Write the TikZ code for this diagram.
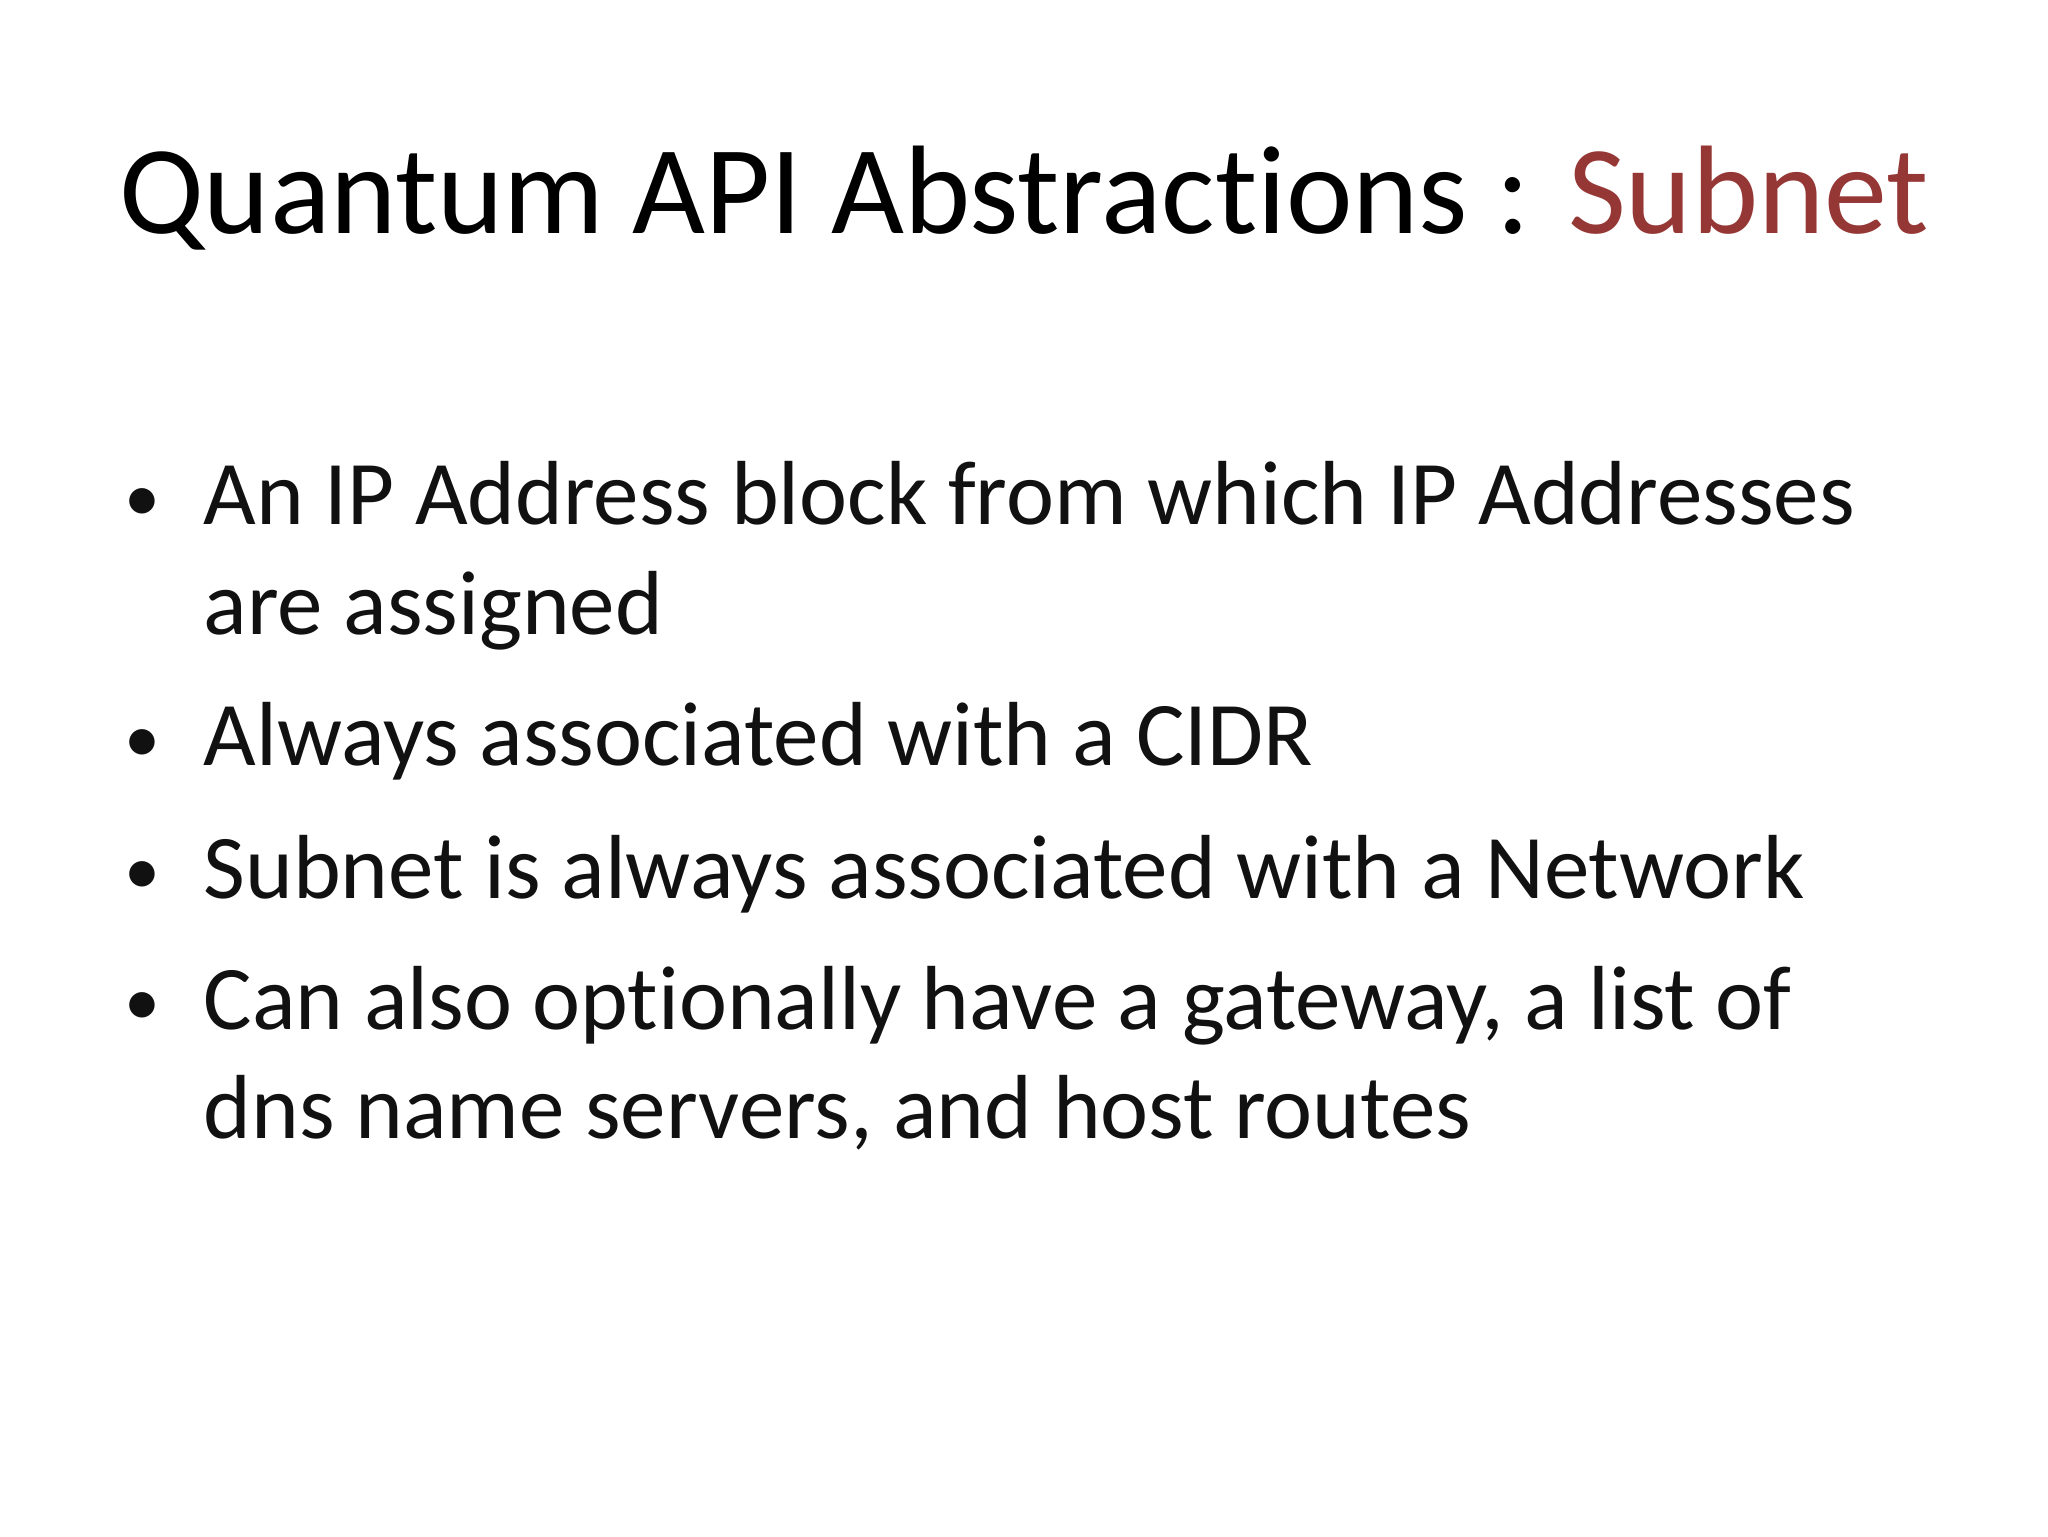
\documentclass[tikz,border=0pt]{standalone}
\usepackage{fontspec}
\setmainfont[Ligatures=NoCommon]{Carlito}
\definecolor{subred}{HTML}{953735}
\definecolor{txt}{HTML}{111111}
\begin{document}
\begin{tikzpicture}[x=1pt,y=1pt,
  body/.style={anchor=base west,inner sep=0pt,font=\fontsize{45.5}{52}\selectfont,text=txt},
  bul/.style={anchor=base west,inner sep=0pt,font=\fontsize{36}{52}\selectfont,text=txt}]
\useasboundingbox[fill=white] (0,0) rectangle (1024,-768);
\node[anchor=base,inner sep=0pt,font=\fontsize{63}{70}\selectfont,text=black] (title) at (512,-116.7) {Quantum API Abstractions : \textcolor{subred}{Subnet}};
\node[bul] (b1) at (62,-260.5) {•};
\node[body] (l1) at (101.6,-262.2) {An IP Address block from which IP Addresses};
\node[body] (l1b) at (101.6,-317.3) {are assigned};
\node[bul] (b2) at (62,-381.2) {•};
\node[body] (l2) at (101.6,-382.9) {Always associated with a CIDR};
\node[bul] (b3) at (62,-447.4) {•};
\node[body] (l3) at (101.6,-449.1) {Subnet is always associated with a Network};
\node[bul] (b4) at (62,-512.9) {•};
\node[body] (l4) at (101.6,-514.6) {Can also optionally have a gateway, a list of};
\node[body] (l4b) at (101.6,-569.1) {dns name servers, and host routes};
\end{tikzpicture}
\end{document}
